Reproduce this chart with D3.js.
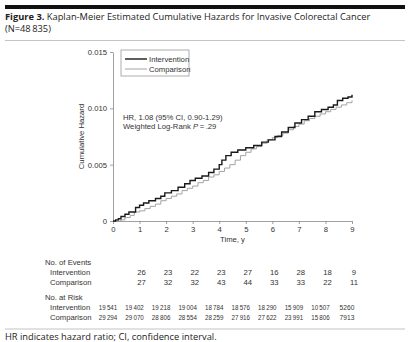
<!DOCTYPE html>
<html lang="en">
<head>
<meta charset="utf-8">
<title>Cumulative Hazards</title>
<script src="https://cdn.jsdelivr.net/npm/d3@7"></script>
<style>
  * { margin: 0; padding: 0; box-sizing: border-box; }
  body { background: #fff; width: 412px; height: 342px; overflow: hidden; }
  svg { display: block; }
  .title { font-family: "Open Sans", sans-serif; font-size: 9.3px; fill: #222; }
  .chart text { font-family: "Liberation Sans", Arial, sans-serif; font-size: 7.7px; fill: #333; }
  .axis path, .axis line { stroke: #888; stroke-width: 0.8; }
</style>
</head>
<body>
<svg id="fig" width="412" height="342"></svg>
<script>
// years since randomization
const years = [0, 1, 2, 3, 4, 5, 6, 7, 8, 9];

// cumulative hazard steps [time, hazard]
const intervention = [
  [0, 0], [0.1, 0.0001], [0.2, 0.0002], [0.3, 0.0004], [0.45, 0.0006], [0.6, 0.0008],
  [0.85, 0.0012], [1.0, 0.0014], [1.15, 0.0016], [1.35, 0.0018], [1.6, 0.0020], [1.8, 0.0022],
  [1.95, 0.0025], [2.2, 0.0027], [2.45, 0.0030], [2.7, 0.0033], [2.9, 0.0036], [3.1, 0.0038],
  [3.35, 0.0040], [3.6, 0.0043], [3.8, 0.0046], [4.0, 0.0050], [4.1, 0.0054], [4.25, 0.0058],
  [4.45, 0.0061], [4.7, 0.0063], [5.0, 0.0065], [5.3, 0.0067], [5.6, 0.0070], [5.85, 0.0072],
  [6.1, 0.0075], [6.35, 0.0079], [6.6, 0.0083], [6.85, 0.0087], [7.1, 0.0090], [7.35, 0.0093],
  [7.6, 0.0097], [7.85, 0.0099], [8.1, 0.0101], [8.3, 0.0103], [8.45, 0.0107], [8.65, 0.0109],
  [8.85, 0.0110], [9.0, 0.0112]
];
const comparison = [
  [0, 0], [0.3, 0.0001], [0.45, 0.0003], [0.65, 0.0005], [0.8, 0.0008], [1.0, 0.0009],
  [1.2, 0.0011], [1.4, 0.0013], [1.6, 0.0015], [1.8, 0.0018], [2.0, 0.0020], [2.2, 0.0022],
  [2.4, 0.0024], [2.6, 0.0027], [2.8, 0.0029], [3.0, 0.0031], [3.2, 0.0034], [3.4, 0.0036],
  [3.6, 0.0039], [3.8, 0.0041], [4.0, 0.0044], [4.2, 0.0047], [4.4, 0.0050], [4.6, 0.0054],
  [4.8, 0.0058], [5.0, 0.0061], [5.2, 0.0064], [5.4, 0.0066], [5.6, 0.0069], [5.8, 0.0072],
  [6.0, 0.0074], [6.2, 0.0076], [6.4, 0.0078], [6.6, 0.0081], [6.8, 0.0084], [7.0, 0.0086],
  [7.2, 0.0089], [7.4, 0.0091], [7.6, 0.0093], [7.8, 0.0095], [8.0, 0.0097], [8.2, 0.0099],
  [8.4, 0.0101], [8.6, 0.0103], [8.8, 0.0105], [9.0, 0.0107]
];

// events per year interval (years 1..9)
const eventsIntervention = [26, 23, 22, 23, 27, 16, 28, 18, 9];
const eventsComparison = [27, 32, 32, 43, 44, 33, 33, 22, 11];

// numbers at risk at years 0..9
const riskIntervention = ["19\u2009541", "19\u2009402", "19\u2009218", "19\u2009004", "18\u2009784", "18\u2009576", "18\u2009290", "15\u2009909", "10\u2009507", "5260"];
const riskComparison = ["29\u2009294", "29\u2009070", "28\u2009806", "28\u2009554", "28\u2009259", "27\u2009916", "27\u2009622", "23\u2009991", "15\u2009806", "7913"];

const yTicks = [0, 0.005, 0.010, 0.015];

const svg = d3.select("#fig");

// header band and title
svg.append("rect").attr("x", 5).attr("y", 5).attr("width", 400).attr("height", 4).attr("fill", "#111");
const title = svg.append("text").attr("class", "title").attr("x", 5).attr("y", 19.5);
title.append("tspan").attr("font-weight", "bold").text("Figure 3.");
title.append("tspan").text(" Kaplan-Meier Estimated Cumulative Hazards for Invasive Colorectal Cancer");
svg.append("text").attr("class", "title").attr("x", 5).attr("y", 31.5).text("(N=48\u2009835)");
svg.append("line").attr("x1", 5).attr("x2", 405).attr("y1", 40.5).attr("y2", 40.5)
  .attr("stroke", "#c4c4c4").attr("stroke-width", 1.2);

const chart = svg.append("g").attr("class", "chart");

const x = d3.scaleLinear().domain([0, 9]).range([113, 352]);
const y = d3.scaleLinear().domain([0, 0.015]).range([221, 52]);

chart.append("g").attr("class", "axis")
  .attr("transform", `translate(0,${y(0)})`)
  .call(d3.axisBottom(x).tickValues(years).tickSize(3).tickSizeOuter(0).tickPadding(3))
  .call(g => g.selectAll("text").attr("font-size", null));

chart.append("g").attr("class", "axis")
  .attr("transform", `translate(${x(0)},0)`)
  .call(d3.axisLeft(y).tickValues(yTicks).tickSize(3).tickSizeOuter(0).tickPadding(3)
    .tickFormat(d => d === 0 ? "0" : d3.format(".3f")(d)))
  .call(g => g.selectAll("text").attr("font-size", null));

chart.append("text").attr("x", (x(0) + x(9)) / 2).attr("y", 242).attr("text-anchor", "middle").text("Time, y");
chart.append("text")
  .attr("transform", `translate(84,${(y(0) + y(0.015)) / 2}) rotate(-90)`)
  .attr("text-anchor", "middle").text("Cumulative Hazard");

const line = d3.line().x(d => x(d[0])).y(d => y(d[1])).curve(d3.curveStepAfter);

chart.append("path").datum(comparison).attr("d", line)
  .attr("fill", "none").attr("stroke", "#9a9a9a").attr("stroke-width", 0.9);
chart.append("path").datum(intervention).attr("d", line)
  .attr("fill", "none").attr("stroke", "#1a1a1a").attr("stroke-width", 1.4);

// legend
const lg = chart.append("g").attr("transform", "translate(121,50)");
lg.append("rect").attr("width", 68).attr("height", 26).attr("fill", "#fff").attr("stroke", "#999").attr("stroke-width", 0.8);
[["Intervention", "#1a1a1a", 1.4], ["Comparison", "#9a9a9a", 0.9]].forEach(([name, color, w], i) => {
  const ry = 9 + i * 10;
  lg.append("line").attr("x1", 4).attr("x2", 26).attr("y1", ry).attr("y2", ry).attr("stroke", color).attr("stroke-width", w);
  lg.append("text").attr("x", 28).attr("y", ry + 2.7).text(name);
});

// hazard ratio note
chart.append("text").attr("x", 123).attr("y", 119.5).text("HR, 1.08 (95% CI, 0.90-1.29)");
const lr = chart.append("text").attr("x", 123).attr("y", 128.5);
lr.append("tspan").text("Weighted Log-Rank ");
lr.append("tspan").attr("font-style", "italic").text("P");
lr.append("tspan").text("\u2009=\u2009.29");

// risk table
const rows = [
  { label: "No. of Events", y: 265, indent: 0 },
  { label: "Intervention", y: 275, indent: 5, values: eventsIntervention, offset: 1, dx: 2 },
  { label: "Comparison", y: 285, indent: 5, values: eventsComparison, offset: 1, dx: 2 },
  { label: "No. at Risk", y: 300, indent: 0 },
  { label: "Intervention", y: 310, indent: 5, values: riskIntervention, offset: 0, dx: -5, narrow: true },
  { label: "Comparison", y: 320, indent: 5, values: riskComparison, offset: 0, dx: -5, narrow: true }
];
rows.forEach(r => {
  chart.append("text").attr("x", 45 + r.indent).attr("y", r.y).text(r.label);
  if (!r.values) return;
  const cells = chart.selectAll(null).data(r.values).join("text")
    .attr("x", (d, i) => x(i + r.offset) + r.dx)
    .attr("y", r.y)
    .attr("text-anchor", "middle")
    .text(d => d);
  // the at-risk counts are set tight in the table
  if (r.narrow) {
    cells.attr("textLength", d => String(d).replace(/\D/g, "").length * 3.7)
      .attr("lengthAdjust", "spacingAndGlyphs");
  }
});

svg.append("line").attr("x1", 5).attr("x2", 405).attr("y1", 329).attr("y2", 329)
  .attr("stroke", "#c4c4c4").attr("stroke-width", 1.2);
svg.append("text").attr("class", "title").attr("x", 5).attr("y", 339.5).attr("font-size", "8.4px")
  .text("HR indicates hazard ratio; CI, confidence interval.");
</script>
</body>
</html>
